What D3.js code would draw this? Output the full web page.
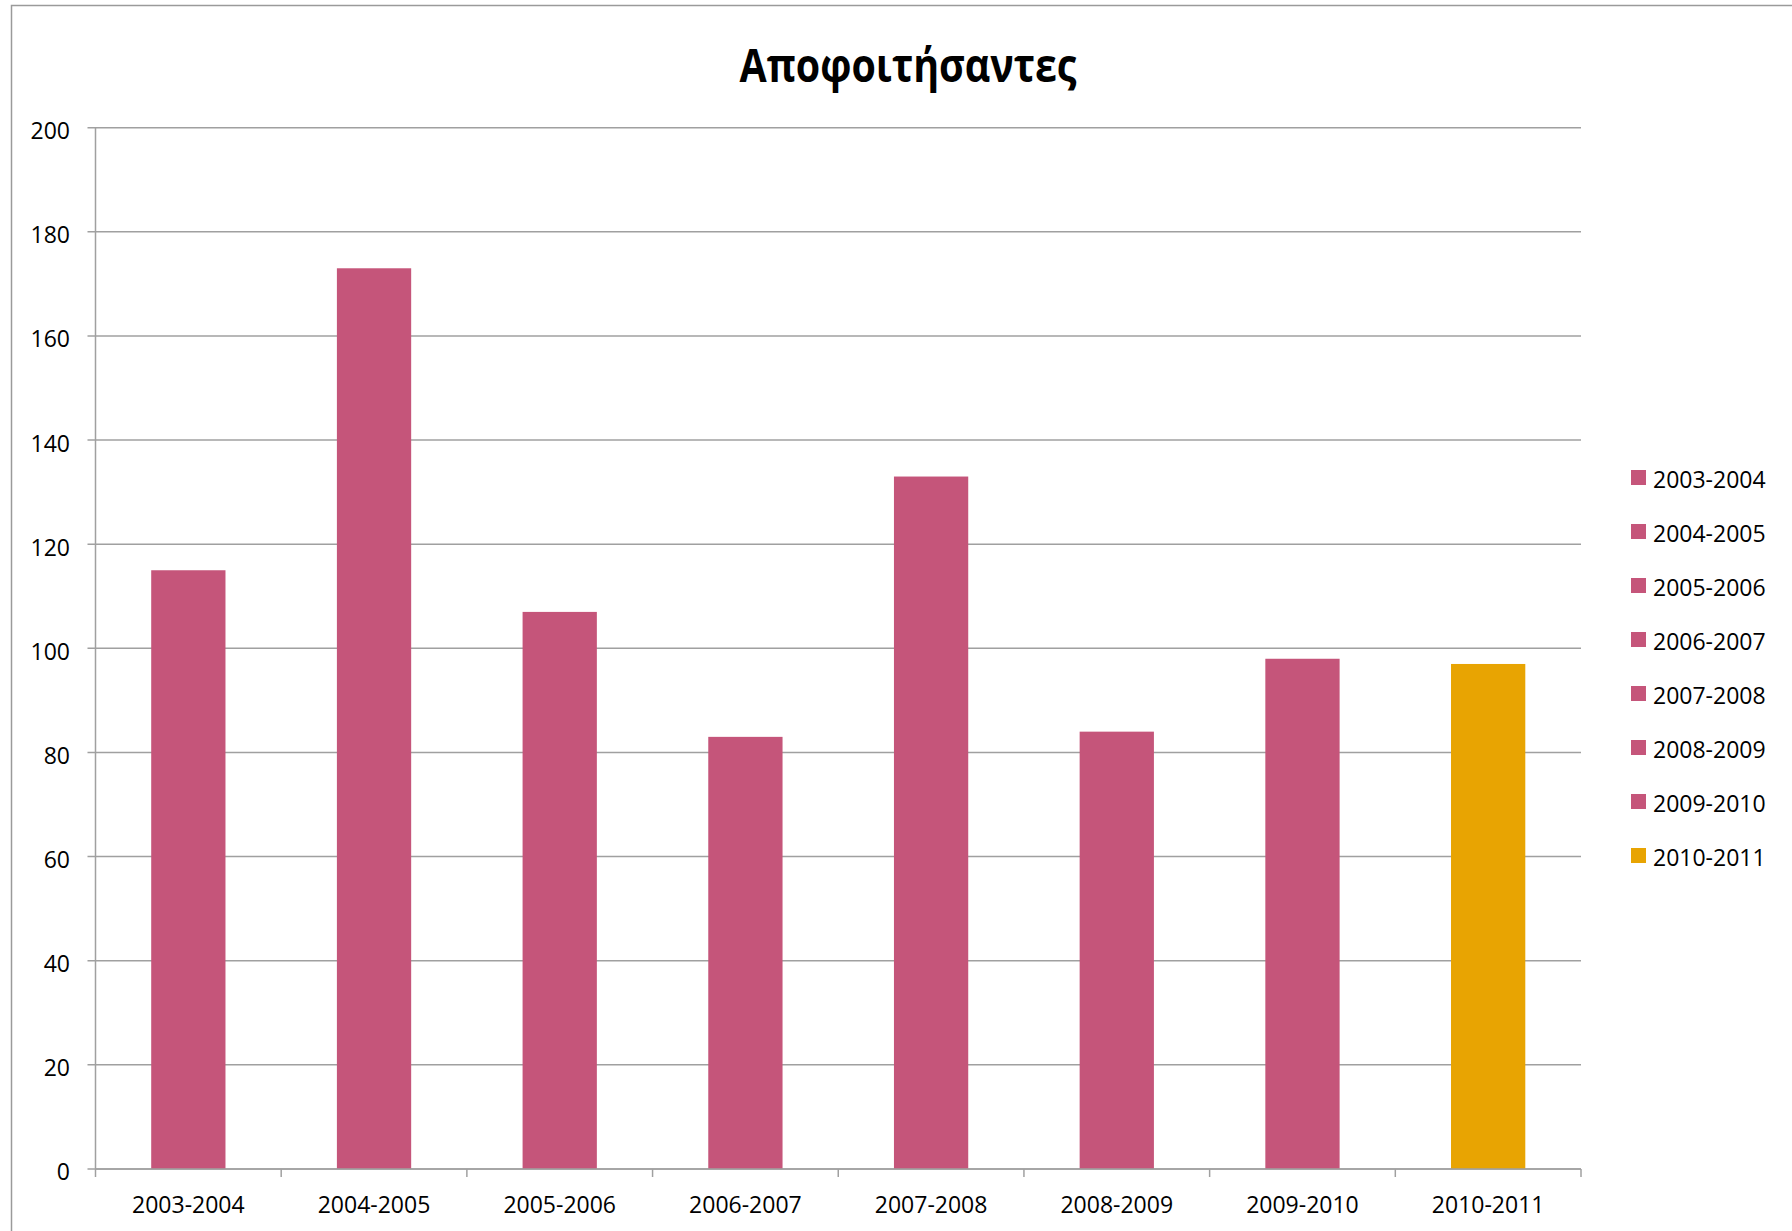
<!DOCTYPE html>
<html>
<head>
<meta charset="utf-8">
<script src="https://cdn.jsdelivr.net/npm/d3@7"></script>
<style>
  body { margin: 0; background: #fff; }
  text { font-family: "Open Sans", sans-serif; fill: #000; }
</style>
</head>
<body>
<script>
const svgWidth = 1792,
    svgHeight = 1231,
    margin = { top: 127.7, right: 211, bottom: 62, left: 95.5 },
    width = svgWidth - margin.left - margin.right,
    height = svgHeight - margin.top - margin.bottom;

// data
var years = ["2003-2004", "2004-2005", "2005-2006", "2006-2007", "2007-2008", "2008-2009", "2009-2010", "2010-2011"];
var graduates = [115, 173, 107, 83, 133, 84, 98, 97];
var yTicks = [0, 20, 40, 60, 80, 100, 120, 140, 160, 180, 200];
var title = "Αποφοιτήσαντες";

var pink = "#c5557a",
    gold = "#e8a402",
    grey = "#a0a0a0";

function colour(d, i) { return i === years.length - 1 ? gold : pink; }

var root = d3.select("body").append("svg")
    .attr("width", svgWidth)
    .attr("height", svgHeight);

// chart area border (only top and left edges are visible)
root.append("path")
    .attr("d", "M11.5," + svgHeight + "V5.5H" + svgWidth)
    .attr("fill", "none")
    .attr("stroke", "#9a9a9a")
    .attr("stroke-width", 1.5);

root.append("text")
    .attr("x", 908)
    .attr("y", 82)
    .attr("text-anchor", "middle")
    .attr("font-size", 47)
    .attr("font-weight", "bold")
    .attr("textLength", 337)
    .attr("lengthAdjust", "spacingAndGlyphs")
    .text(title);

var svg = root.append("g")
    .attr("transform", "translate(" + margin.left + "," + margin.top + ")");

var x = d3.scaleBand()
    .domain(years)
    .range([0, width])
    .paddingInner(0.6)
    .paddingOuter(0.3);

var xb = d3.scaleBand().domain(years).range([0, width]);

var y = d3.scaleLinear()
    .domain([0, 200])
    .range([height, 0]);

// gridlines
svg.append("g")
    .selectAll("line")
    .data(yTicks)
    .enter().append("line")
    .attr("x1", -8)
    .attr("x2", width)
    .attr("y1", function (d) { return y(d); })
    .attr("y2", function (d) { return y(d); })
    .attr("stroke", grey)
    .attr("stroke-width", 1.5);

// y axis line + labels
svg.append("line")
    .attr("x1", 0).attr("x2", 0)
    .attr("y1", 0).attr("y2", height)
    .attr("stroke", grey)
    .attr("stroke-width", 1.5);

svg.append("g")
    .selectAll("text")
    .data(yTicks)
    .enter().append("text")
    .attr("x", -25.5)
    .attr("y", function (d) { return y(d) + 11.5; })
    .attr("text-anchor", "end")
    .attr("font-size", 23)
    .text(function (d) { return d; });

// bars
svg.append("g")
    .selectAll("rect")
    .data(graduates)
    .enter().append("rect")
    .attr("x", function (d, i) { return x(years[i]); })
    .attr("width", x.bandwidth())
    .attr("y", function (d) { return y(d); })
    .attr("height", function (d) { return height - y(d); })
    .attr("fill", colour);

// x axis with tick marks between categories
var xTicks = years.map(function (d) { return xb(d); }).concat([width]);
svg.append("line")
    .attr("x1", 0).attr("x2", width)
    .attr("y1", height).attr("y2", height)
    .attr("stroke", grey)
    .attr("stroke-width", 1.5);

svg.append("g")
    .selectAll("line")
    .data(xTicks)
    .enter().append("line")
    .attr("x1", function (d) { return d; })
    .attr("x2", function (d) { return d; })
    .attr("y1", height)
    .attr("y2", height + 8)
    .attr("stroke", grey)
    .attr("stroke-width", 1.5);

svg.append("g")
    .selectAll("text")
    .data(years)
    .enter().append("text")
    .attr("x", function (d) { return xb(d) + xb.bandwidth() / 2; })
    .attr("y", height + 44)
    .attr("text-anchor", "middle")
    .attr("font-size", 23)
    .text(function (d) { return d; });

// legend
var legend = root.append("g")
    .attr("transform", "translate(1631,470)")
    .selectAll("g")
    .data(years)
    .enter().append("g")
    .attr("transform", function (d, i) { return "translate(0," + i * 54 + ")"; });

legend.append("rect")
    .attr("width", 15)
    .attr("height", 15)
    .attr("fill", colour);

legend.append("text")
    .attr("x", 22)
    .attr("y", 18)
    .attr("font-size", 23)
    .text(function (d) { return d; });
</script>
</body>
</html>
